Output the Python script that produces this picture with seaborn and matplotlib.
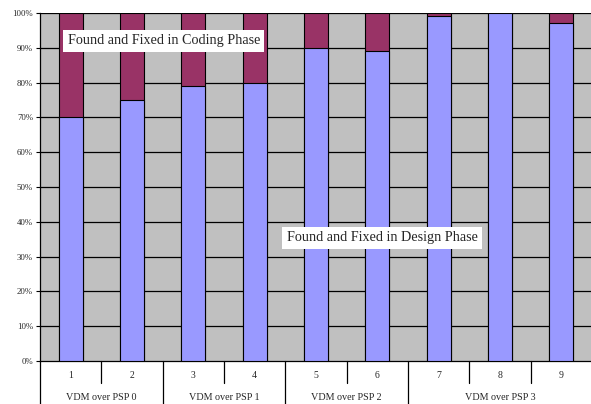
import matplotlib
matplotlib.use("Agg")
import matplotlib.pyplot as plt
import matplotlib.transforms as mtransforms
import seaborn as sns
import pandas as pd

# Share of defects found and fixed in each phase, per project
projects = ["1", "2", "3", "4", "5", "6", "7", "8", "9"]
design_pct = [70, 75, 79, 80, 90, 89, 99, 100, 97]
coding_pct = [30, 25, 21, 20, 10, 11, 1, 0, 3]
groups = ["VDM over PSP 0", "VDM over PSP 1", "VDM over PSP 2", "VDM over PSP 3"]
group_sizes = [2, 2, 2, 3]
y_ticks = [0, 10, 20, 30, 40, 50, 60, 70, 80, 90, 100]

sns.set_style("white")
plt.rcParams["font.family"] = ["Liberation Serif", "DejaVu Serif"]

df = pd.DataFrame({
    "project": projects,
    "design": design_pct,
    "total": [d + c for d, c in zip(design_pct, coding_pct)],
})

fig = plt.figure(figsize=(5.91, 4.04), dpi=100)
ax = fig.add_axes([40 / 591, 43 / 404, 552 / 591, 348 / 404])
ax.set_facecolor("#C0C0C0")

# Horizontal grid at every 10%
for y in y_ticks[1:]:
    ax.axhline(y, color="black", lw=0.9, zorder=0.5)

sns.barplot(data=df, x="project", y="total", order=projects, color="#993366",
            width=0.39, edgecolor="black", linewidth=0.8, saturation=1,
            ax=ax, zorder=2)
sns.barplot(data=df, x="project", y="design", order=projects, color="#9999FF",
            width=0.39, edgecolor="black", linewidth=0.8, saturation=1,
            ax=ax, zorder=3)

ax.set_xlim(-0.5, len(projects) - 0.5)
ax.set_ylim(0, 100)
ax.set_yticks(y_ticks)
ax.set_yticklabels([f"{v}%" for v in y_ticks], fontsize=6.3)
ax.tick_params(axis="y", length=3, width=0.8, color="black", pad=2, direction="out", left=True)
ax.set_xticks([])
ax.set_xlabel("")
ax.set_ylabel("")
for side in ["top", "right"]:
    ax.spines[side].set_visible(False)
ax.spines["left"].set_color("black")
ax.spines["bottom"].set_color("black")
ax.spines["left"].set_linewidth(0.9)
ax.spines["bottom"].set_linewidth(0.9)

# Two-level category axis
trans = mtransforms.blended_transform_factory(ax.transData, ax.transAxes)
short = -22 / 348
full = -44 / 348
for i, p in enumerate(projects):
    ax.text(i, -15 / 348, p, transform=trans, ha="center", va="center", fontsize=7)

start = 0
boundaries = [-0.5]
for name, size in zip(groups, group_sizes):
    center = start + (size - 1) / 2
    ax.text(center, -36 / 348, name, transform=trans, ha="center", va="center", fontsize=7.3)
    for k in range(1, size):
        b = start + k - 0.5
        ax.plot([b, b], [0, short], transform=trans, color="black", lw=0.9, clip_on=False)
    start += size
    boundaries.append(start - 0.5)
for b in boundaries[:-1]:
    ax.plot([b, b], [0, full], transform=trans, color="black", lw=0.9, clip_on=False)

# Segment labels
box = dict(facecolor="white", edgecolor="none", pad=3.2)
ax.text(1.52, 92.0, "Found and Fixed in Coding Phase", ha="center", va="center",
        fontsize=10.2, bbox=box, zorder=5)
ax.text(5.08, 35.4, "Found and Fixed in Design Phase", ha="center", va="center",
        fontsize=10.2, bbox=box, zorder=5)

fig.savefig("out.png", dpi=100)
